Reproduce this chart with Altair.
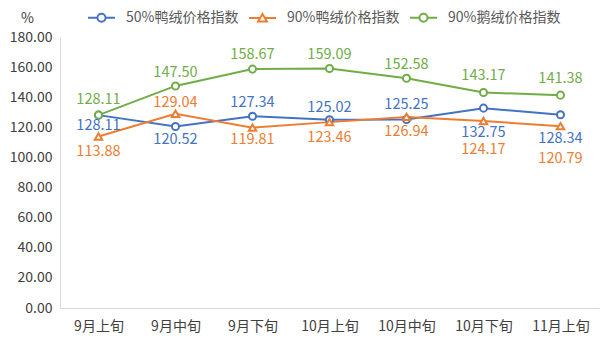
import altair as alt
import pandas as pd

categories = ["9月上旬", "9月中旬", "9月下旬", "10月上旬", "10月中旬", "10月下旬", "11月上旬"]
series_names = ["50%鸭绒价格指数", "90%鸭绒价格指数", "90%鹅绒价格指数"]
duck50 = [128.11, 120.52, 127.34, 125.02, 125.25, 132.75, 128.34]
duck90 = [113.88, 129.04, 119.81, 123.46, 126.94, 124.17, 120.79]
goose90 = [128.11, 147.50, 158.67, 159.09, 152.58, 143.17, 141.38]
y_ticks = [0, 20, 40, 60, 80, 100, 120, 140, 160, 180]

# label offsets in pixels (negative = above the point)
duck50_label_dy = [11, 13, -13, -12, -14, 25, 24]
duck90_label_dy = [15, -11, 12, 16, 15, 29, 33]
goose90_label_dy = [-15, -13, -14, -13, -13, -16, -16]

colors = ["#4472C4", "#ED7D31", "#70AD47"]
FONT = "Noto Sans CJK SC"
TEXT_COLOR = "#404040"
PLOT_H = 271
Y_MAX = 180

rows = []
for name, vals, dys in zip(series_names, [duck50, duck90, goose90],
                           [duck50_label_dy, duck90_label_dy, goose90_label_dy]):
    for c, v, d in zip(categories, vals, dys):
        rows.append({"cat": c, "series": name, "value": v, "dy": d})
df = pd.DataFrame(rows)

circle_path = "M-1,0H-0.3M0.3,0H1M0.3,0A0.3,0.3,0,1,1,-0.3,0A0.3,0.3,0,1,1,0.3,0"
tri_path = "M-1,0H-0.22M0.22,0H1M0,-0.3L0.33,0.25L-0.33,0.25Z"

x_enc = alt.X("cat:N", sort=categories, scale=alt.Scale(paddingInner=0, paddingOuter=0),
              axis=alt.Axis(title=None, labelAngle=0, ticks=False, domainColor="#D9D9D9",
                            labelFontSize=14, labelColor=TEXT_COLOR, labelPadding=11,
                            labelFont=FONT))
y_scale = alt.Scale(domain=[0, Y_MAX], nice=False)
y_axis = alt.Axis(values=y_ticks, format=".2f", grid=False, ticks=False,
                  labelOverlap=False,
                  domainColor="#D9D9D9", labelFontSize=14, labelColor=TEXT_COLOR,
                  labelFont=FONT, labelPadding=8,
                  title="%", titleAngle=0, titleX=-33, titleY=-19,
                  titleAlign="center", titleBaseline="middle",
                  titleFontSize=14, titleFontWeight="normal",
                  titleColor=TEXT_COLOR, titleFont=FONT)
y_enc = alt.Y("value:Q", scale=y_scale, axis=y_axis)
color_scale = alt.Scale(domain=series_names, range=colors)

base = alt.Chart(df)

legend_layer = base.transform_filter("false").mark_point(filled=False, strokeWidth=2).encode(
    x=x_enc, y=y_enc,
    color=alt.Color("series:N", scale=color_scale,
                    legend=alt.Legend(title=None, orient="none", direction="horizontal",
                                      legendX=27, legendY=-34, symbolSize=729,
                                      symbolStrokeWidth=2, symbolFillColor="white",
                                      symbolOpacity=1, labelFontSize=14,
                                      labelColor="#595959", labelFont=FONT,
                                      labelOffset=10, columnPadding=6)),
    shape=alt.Shape("series:N", scale=alt.Scale(domain=series_names,
                                                range=[circle_path, tri_path, circle_path]))
)

lines = base.mark_line(strokeWidth=2).encode(
    x=x_enc, y=y_enc, color=alt.Color("series:N", scale=color_scale), detail="series:N")

circles = base.transform_filter(alt.datum.series != series_names[1]).mark_point(
    shape="circle", filled=False, fill="white", fillOpacity=1, opacity=1, size=50,
    strokeWidth=2).encode(x=x_enc, y=y_enc, color=alt.Color("series:N", scale=color_scale))

tris = base.transform_filter(alt.datum.series == series_names[1]).mark_point(
    shape="triangle-up", filled=False, fill="white", fillOpacity=1, opacity=1, size=55,
    strokeWidth=2).encode(x=x_enc, y=y_enc, color=alt.Color("series:N", scale=color_scale))

label_layers = []
for name, col in zip(series_names, colors):
    label_layers.append(
        base.transform_filter(alt.datum.series == name).transform_calculate(
            label_y=f"datum.value - datum.dy * {Y_MAX} / {PLOT_H}"
        ).mark_text(fontSize=14.5, font=FONT, baseline="middle", align="center",
                    color=col).encode(
            x=x_enc, y=alt.Y("label_y:Q", scale=y_scale, axis=y_axis),
            text=alt.Text("value:Q", format=".2f"))
    )

chart = alt.layer(legend_layer, lines, circles, tris, *label_layers).properties(
    width=539, height=PLOT_H,
    autosize=alt.AutoSizeParams(type="none"),
    padding={"left": 60, "top": 37, "right": 1, "bottom": 44},
    background="white",
).configure_view(stroke=None).configure_axisY(labelOverlap=False)

chart.save("out.html", embed_options={"renderer": "svg", "actions": False})
